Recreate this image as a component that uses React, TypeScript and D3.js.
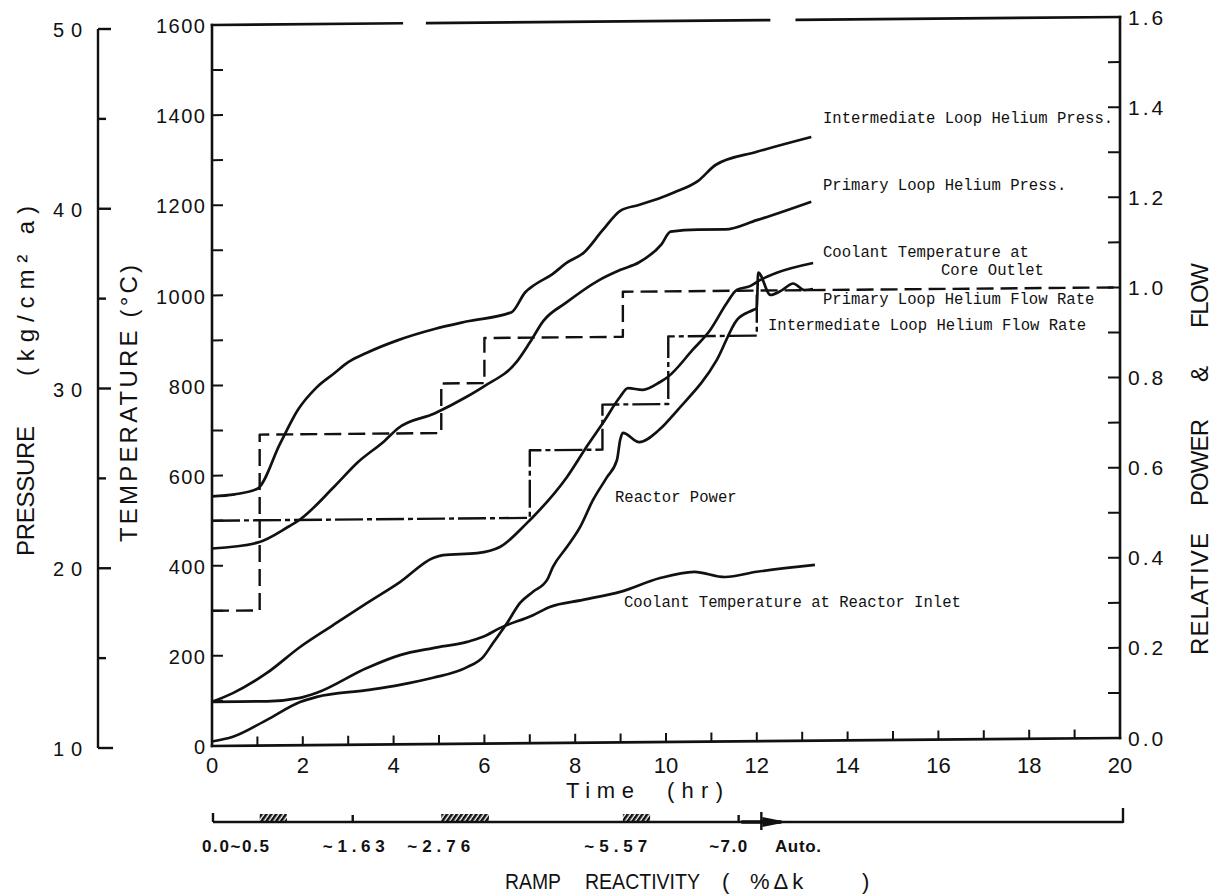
import React from "react";
import * as d3 from "d3";

// ---------- series (time in hours) ----------
const intPressTime = [0, 0.5, 1.0, 1.5, 1.9, 2.3, 2.7, 3.0, 3.4, 4.1, 4.9, 5.6, 6.6, 6.9, 7.1, 7.5, 7.8, 8.2, 8.6, 9.0, 9.4, 9.9, 10.2, 10.7, 11.1, 12.0, 13.2];
const intPress = [24.0, 24.1, 24.4, 26.9, 28.8, 30.0, 30.8, 31.4, 31.9, 32.6, 33.2, 33.6, 34.1, 35.2, 35.6, 36.2, 36.8, 37.4, 38.6, 39.7, 40.0, 40.4, 40.7, 41.3, 42.2, 42.9, 43.7];

const primPressTime = [0, 1.0, 1.7, 1.9, 2.7, 3.2, 3.8, 4.1, 4.9, 5.6, 6.0, 6.7, 7.0, 7.3, 7.8, 8.5, 9.0, 9.4, 9.9, 10.1, 10.7, 11.3, 12.0, 13.2];
const primPress = [21.1, 21.4, 22.3, 22.6, 24.5, 25.8, 27.0, 27.7, 28.5, 29.4, 30.0, 31.3, 32.4, 33.6, 34.6, 35.8, 36.4, 36.8, 37.8, 38.5, 38.6, 38.6, 39.1, 40.1];

const outletTime = [0, 0.46, 1.21, 1.94, 2.67, 3.41, 4.14, 4.87, 5.09, 5.84, 6.34, 6.94, 7.07, 7.82, 8.28, 8.61, 8.99, 9.16, 9.49, 9.87, 10.04, 10.59, 10.97, 11.34, 11.56, 11.85, 12.07, 12.44, 13.24];
const outletTemp = [98, 117, 161, 218, 266, 314, 360, 413, 419, 423, 436, 489, 502, 590, 661, 709, 767, 786, 782, 799, 810, 870, 913, 973, 1002, 1010, 1023, 1039, 1060];

const inletTime = [0, 1.21, 1.94, 2.31, 3.41, 4.14, 4.87, 5.62, 5.97, 6.34, 7.07, 7.44, 8.17, 8.99, 9.87, 10.62, 11.3, 12.0, 13.28];
const inletTemp = [98, 98, 105, 116, 170, 198, 213, 226, 237, 256, 284, 302, 317, 334, 364, 377, 365, 376, 390];

const powerTime = [0, 0.46, 1.21, 1.94, 2.31, 3.41, 4.14, 4.87, 5.62, 5.97, 6.19, 6.5, 6.78, 7.07, 7.38, 7.51, 7.82, 8.11, 8.39, 8.7, 8.92, 8.99, 9.05, 9.41, 9.85, 10.26, 11.12, 11.56, 11.92, 12.0, 12.03, 12.3, 12.55, 12.8, 13.05, 13.24];
const powerRel = [0.01, 0.02, 0.057, 0.096, 0.107, 0.121, 0.132, 0.147, 0.17, 0.192, 0.223, 0.267, 0.311, 0.336, 0.362, 0.391, 0.435, 0.479, 0.538, 0.589, 0.627, 0.671, 0.687, 0.666, 0.693, 0.737, 0.847, 0.935, 0.957, 0.961, 1.04, 0.99, 1.0, 1.015, 1.0, 1.002];

// step-wise flow set points
const primFlowTime = [0, 1.05, 5.05, 6.0, 9.05, 20];
const primFlow = [0.3, 0.69, 0.8, 0.9, 1.0, 1.0];
const intFlowTime = [0, 7.0, 8.6, 10.05, 12.0];
const intFlow = [0.5, 0.65, 0.75, 0.9, 1.0];

// ramp reactivity insertions (hours)
const rampHatch = [[1.05, 1.65], [5.05, 6.1], [9.05, 9.65]];
const rampMarks = [3.1, 11.6];
const rampAuto = 12.1;
const rampLabels = ["0.0~0.5", "~1.63", "~2.76", "~5.57", "~7.0", "Auto."];
const rampLabelAt = [-0.22, 2.44, 4.3, 8.2, 10.95, 12.4];

// axis ticks
const timeLabels = [0, 2, 4, 6, 8, 10, 12, 14, 16, 18, 20];
const tempLabels = [0, 200, 400, 600, 800, 1000, 1200, 1400, 1600];
const pressLabels = [10, 20, 30, 40, 50];
const flowLabels = [0, 0.2, 0.4, 0.6, 0.8, 1.0, 1.2, 1.4, 1.6];

// ---------- layout ----------
const W = 1214;
const H = 896;
const X0 = 212;
const X1 = 1120;
const Y0 = 746;
const Y1 = 25;
const K = -8 / 908; // the plotting frame is slightly skewed
const skew = (px: number) => K * (px - X0);
const frameGaps = [[4.18, 4.74], [12.27, 12.88]];
const rampLabelWidth = [67, 62, 63, 63, 38, 46];

const x = d3.scaleLinear().domain([0, 20]).range([X0, X1]);
const yT = d3.scaleLinear().domain([0, 1600]).range([Y0, Y1]);
const yF = d3.scaleLinear().domain([0, 1.6]).range([Y0, Y1]);
const yP = d3.scaleLinear().domain([10, 50]).range([748, 29]);

const SANS = "'Liberation Sans', Arial, Helvetica, sans-serif";
const MONO = "'Liberation Mono', 'Courier New', monospace";
const INK = "#111";

function series(ts: number[], vs: number[], y: (v: number) => number, curve: any) {
  const gen = d3
    .line<number>()
    .x((_, i) => x(ts[i]))
    .y((v) => y(v))
    .curve(curve);
  return gen(vs) || "";
}

export default function App() {
  const smooth = d3.curveMonotoneX;
  const step = d3.curveStepAfter;

  const topSegs: number[][] = [];
  let s = 0;
  frameGaps.forEach(([a, b]) => {
    topSegs.push([s, a]);
    s = b;
  });
  topSegs.push([s, 20]);

  const tempMinor = d3.range(0, 1601, 100);
  const flowMinor = d3.range(0, 16.01, 1).map((v) => v / 10);
  const hourTicks = d3.range(1, 20, 1);
  const pressMinor = d3.range(10, 51, 5);

  const inPlot = { fontFamily: MONO, fontSize: 15.6, fill: INK } as React.CSSProperties;

  return (
    <svg
      width={W}
      height={H}
      viewBox={`0 0 ${W} ${H}`}
      style={{ position: "absolute", left: 0, top: 0, background: "#fff" }}
    >
      <defs>
        <pattern id="hatch" width="4" height="4" patternUnits="userSpaceOnUse" patternTransform="rotate(35)">
          <rect width="2.6" height="4" fill={INK} />
        </pattern>
      </defs>
      <rect width={W} height={H} fill="#fff" />

      {/* pressure axis */}
      <g stroke={INK} strokeWidth={2.4} fill="none">
        <line x1={98} x2={98} y1={yP(50)} y2={yP(10)} />
        {pressMinor.map((v) => (
          <line
            key={v}
            x1={98}
            x2={v === 10 ? 113 : v % 10 === 0 ? 111 : 106}
            y1={yP(v)}
            y2={yP(v)}
          />
        ))}
      </g>
      {pressLabels.map((v) => (
        <text
          key={v}
          x={53}
          y={yP(v) + 1}
          dy="0.36em"
          style={{ fontFamily: SANS, fontSize: 20, letterSpacing: 7, fill: INK }}
        >
          {v}
        </text>
      ))}

      {/* plotting frame, ticks and curves */}
      <g transform={`matrix(1 ${K} 0 1 0 ${-K * X0})`}>
        <g stroke={INK} strokeWidth={2.6} fill="none" strokeLinecap="square">
          <line x1={X0} x2={X0} y1={Y1} y2={Y0} />
          <line x1={X1} x2={X1} y1={Y1} y2={Y0} />
          <line x1={X0} x2={X1} y1={Y0} y2={Y0} />
          {topSegs.map(([a, b], i) => (
            <line key={i} x1={x(a)} x2={x(b)} y1={Y1} y2={Y1} />
          ))}
        </g>
        <g stroke={INK} strokeWidth={2} fill="none">
          {tempMinor.map((v) => (
            <line key={"t" + v} x1={X0} x2={X0 + 11} y1={yT(v)} y2={yT(v)} />
          ))}
          {flowMinor.map((v) => (
            <line key={"f" + v} x1={X1} x2={X1 - 12} y1={yF(v)} y2={yF(v)} />
          ))}
          {hourTicks.map((t) => (
            <line key={"h" + t} x1={x(t)} x2={x(t)} y1={Y0} y2={Y0 - 9} />
          ))}
        </g>

        <g fill="none" stroke={INK} strokeWidth={2.7} strokeLinejoin="round">
          <path d={series(primFlowTime, primFlow, yF, step)} strokeDasharray="17 7" strokeWidth={2.4} />
          <path d={series(intFlowTime, intFlow, yF, step)} strokeDasharray="28 4 5 4" strokeWidth={2.4} />
          <path d={series(intPressTime, intPress, yP, smooth)} />
          <path d={series(primPressTime, primPress, yP, smooth)} />
          <path d={series(outletTime, outletTemp, yT, smooth)} />
          <path d={series(inletTime, inletTemp, yT, smooth)} />
          <path d={series(powerTime, powerRel, yF, smooth)} />
        </g>
      </g>

      {/* temperature tick labels */}
      {tempLabels.map((v) => (
        <text
          key={v}
          x={206.5}
          y={yT(v) + 1}
          dy="0.36em"
          textAnchor="end"
          style={{ fontFamily: SANS, fontSize: 20, letterSpacing: 1.5, fill: INK }}
        >
          {v}
        </text>
      ))}

      {/* relative power & flow tick labels */}
      {flowLabels.map((v) => (
        <text
          key={v}
          x={1128}
          y={yF(v) + skew(X1)}
          dy="0.36em"
          style={{ fontFamily: SANS, fontSize: 21, letterSpacing: 3, fill: INK }}
        >
          {v.toFixed(1)}
        </text>
      ))}

      {/* time tick labels */}
      {timeLabels.map((t) => (
        <text
          key={t}
          x={x(t)}
          y={773}
          textAnchor="middle"
          style={{ fontFamily: SANS, fontSize: 22, fill: INK }}
        >
          {t}
        </text>
      ))}
      <text x={566} y={798} textLength={68} style={{ fontFamily: SANS, fontSize: 22, fill: INK }}>
        Time
      </text>
      <text x={667} y={798} textLength={56} style={{ fontFamily: SANS, fontSize: 22, fill: INK }}>
        (hr)
      </text>

      {/* axis titles */}
      <g style={{ fontFamily: SANS, fontSize: 24, fill: INK }}>
        <text transform="translate(34,556) rotate(-90)" textLength={130}>
          PRESSURE
        </text>
        <text transform="translate(34,376) rotate(-90)" textLength={170}>
          (kg/cm² a)
        </text>
        <text transform="translate(137,542) rotate(-90)" textLength={277}>
          TEMPERATURE (°C)
        </text>
        <text transform="translate(1208,655) rotate(-90)" textLength={122}>
          RELATIVE
        </text>
        <text transform="translate(1208,506) rotate(-90)" textLength={87}>
          POWER
        </text>
        <text transform="translate(1208,382) rotate(-90)" textLength={16}>
          &amp;
        </text>
        <text transform="translate(1208,328) rotate(-90)" textLength={65}>
          FLOW
        </text>
      </g>

      {/* curve annotations */}
      <text x={823} y={123} style={inPlot}>Intermediate Loop Helium Press.</text>
      <text x={823} y={190} style={inPlot}>Primary Loop Helium Press.</text>
      <text x={823} y={257} style={inPlot}>Coolant Temperature at</text>
      <text x={941} y={275} style={inPlot}>Core Outlet</text>
      <text x={823} y={304} style={inPlot}>Primary Loop Helium Flow Rate</text>
      <text x={768} y={330} style={inPlot}>Intermediate Loop Helium Flow Rate</text>
      <text x={615} y={502} style={inPlot}>Reactor Power</text>
      <text x={624} y={607} style={inPlot}>Coolant Temperature at Reactor Inlet</text>

      {/* ramp reactivity bar */}
      <g stroke={INK} strokeWidth={2.4} fill="none">
        <line x1={x(0) + 1} x2={x(20) + 3} y1={822} y2={822} />
        <line x1={x(0) + 1} x2={x(0) + 1} y1={822} y2={813} />
        <line x1={x(20) + 3} x2={x(20) + 3} y1={823} y2={808} />
        {rampMarks.map((t) => (
          <line key={t} x1={x(t)} x2={x(t)} y1={822} y2={815} />
        ))}
        <line x1={x(rampAuto)} x2={x(rampAuto)} y1={812} y2={830} />
        <line x1={x(rampAuto) - 20} x2={x(rampAuto) + 20} y1={822} y2={822} strokeWidth={3.4} />
      </g>
      <path
        d={`M${x(rampAuto) + 1},817 L${x(rampAuto) + 26},822 L${x(rampAuto) + 1},827 Z`}
        fill={INK}
      />
      {rampHatch.map(([a, b], i) => (
        <rect key={i} x={x(a)} y={814} width={x(b) - x(a)} height={8} fill="url(#hatch)" />
      ))}
      {rampLabels.map((lab, i) => (
        <text
          key={lab}
          x={x(rampLabelAt[i])}
          y={852}
          textLength={rampLabelWidth[i]}
          style={{ fontFamily: SANS, fontSize: 17, fontWeight: 700, fill: INK }}
        >
          {lab}
        </text>
      ))}
      <g style={{ fontFamily: SANS, fontSize: 22, fill: INK }}>
        <text x={505} y={889} textLength={56} lengthAdjust="spacingAndGlyphs">RAMP</text>
        <text x={585} y={889} textLength={115} lengthAdjust="spacingAndGlyphs">REACTIVITY</text>
        <text x={722} y={889}>(</text>
        <text x={750} y={889} style={{ letterSpacing: 4 }}>%Δk</text>
        <text x={862} y={889}>)</text>
      </g>
    </svg>
  );
}
